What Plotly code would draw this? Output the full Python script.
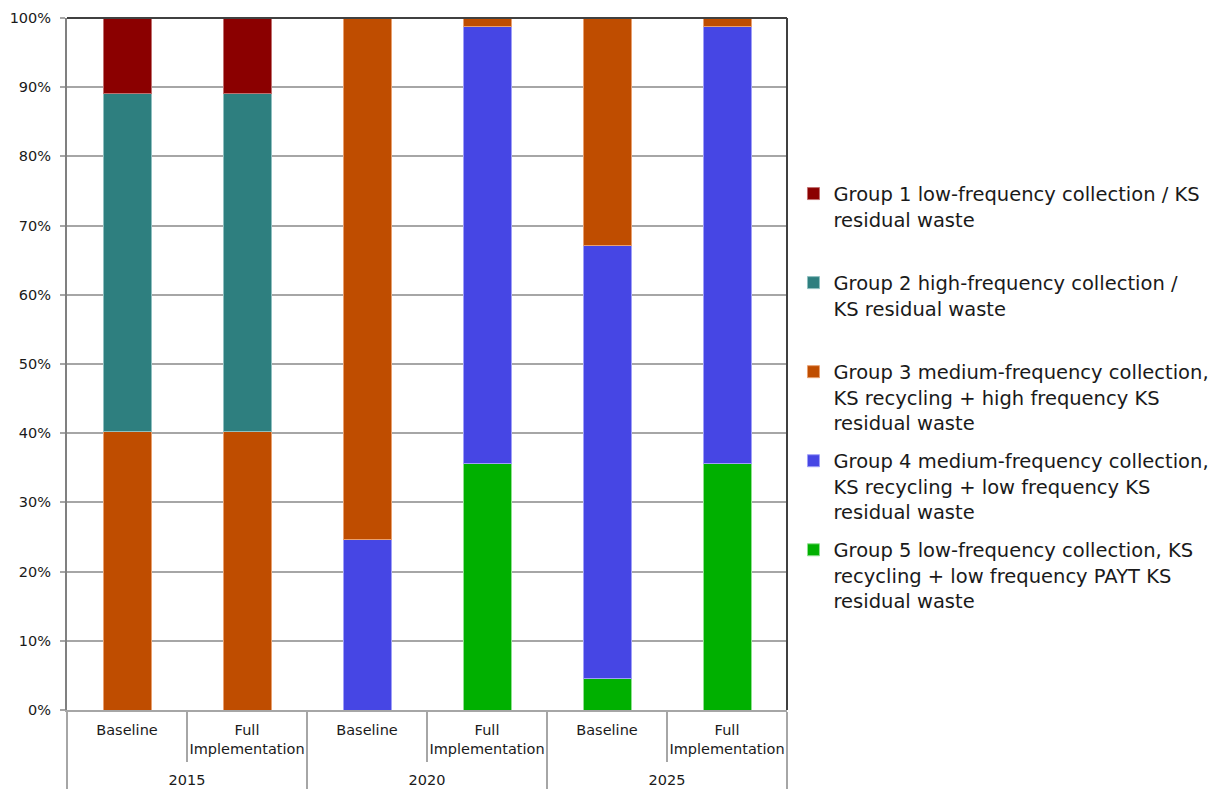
import plotly.graph_objects as go

years = ["2015", "2015", "2020", "2020", "2025", "2025"]
scenarios = ["Baseline", "Full<br>Implementation<br> ", "Baseline", "Full<br>Implementation<br> ",
             "Baseline", "Full<br>Implementation<br> "]

series_names = [
    "Group 1 low-frequency collection / KS<br>residual waste<br> ",
    "Group 2 high-frequency collection /<br>KS residual waste<br> ",
    "Group 3 medium-frequency collection,<br>KS recycling + high frequency KS<br>residual waste",
    "Group 4 medium-frequency collection,<br>KS recycling + low frequency KS<br>residual waste",
    "Group 5 low-frequency collection, KS<br>recycling + low frequency PAYT KS<br>residual waste",
]
g1 = [10.9, 10.9, None, None, None, None]
g2 = [48.8, 48.8, None, None, None, None]
g3 = [40.3, 40.3, 75.3, 1.25, 32.85, 1.25]
g4 = [None, None, 24.7, 63.1, 62.55, 63.1]
g5 = [None, None, None, 35.65, 4.6, 35.65]
colors = ["#8B0000", "#2E7F7F", "#BF4D00", "#4646E4", "#00B000"]
outline = ["#C07070", "#90C0C0", "#E8A070", "#A0A0F8", "#90E090"]
y_ticks = [0, 10, 20, 30, 40, 50, 60, 70, 80, 90, 100]
y_labels = [f"{v}%" for v in y_ticks]

values = [g1, g2, g3, g4, g5]

FONT = "DejaVu Sans"
fig = go.Figure()
# stack bottom to top: group 5 ... group 1
for i in [4, 3, 2, 1, 0]:
    fig.add_trace(go.Bar(
        x=[years, scenarios], y=values[i], name=series_names[i],
        marker=dict(color=colors[i], line=dict(color=outline[i], width=1)),
        legendgroup=f"g{i}", legendrank=i + 1,
    ))

fig.update_layout(
    barmode="stack", bargap=0.6,
    width=1213, height=781,
    margin=dict(l=59, r=434, t=10, b=79, autoexpand=False),
    paper_bgcolor="white", plot_bgcolor="white",
    font=dict(family=FONT, size=14.5, color="#1a1a1a"),
    legend=dict(
        x=1.009, xanchor="left", y=0.774, yanchor="top",
        traceorder="grouped", tracegroupgap=10, valign="top",
        font=dict(family=FONT, size=19.5, color="#1a1a1a"),
    ),
    showlegend=True,
)
fig.update_yaxes(
    range=[0, 100], tickvals=y_ticks, ticktext=y_labels,
    showgrid=True, gridcolor="#A6A6A6", gridwidth=1.5,
    showline=True, linecolor="#808080", linewidth=2,
    ticks="outside", ticklen=5, tickcolor="#A6A6A6", tickwidth=1.5,
    ticklabelstandoff=6, zeroline=False, automargin=False,
    tickfont=dict(size=14.5),
)
fig.update_xaxes(
    type="multicategory", automargin=False, tickangle=0,
    showline=True, linecolor="#A6A6A6", linewidth=1.5,
    ticks="outside", ticklen=50, tickcolor="#A6A6A6", tickwidth=1.5,
    showdividers=True, dividercolor="#A6A6A6", dividerwidth=1.5,
    tickfont=dict(size=14.5), ticklabelstandoff=6,
)
# plot-area border (top and right)
fig.add_shape(type="line", xref="paper", yref="paper", x0=0, x1=1, y0=1, y1=1,
              line=dict(color="#404040", width=2))
fig.add_shape(type="line", xref="paper", yref="paper", x0=1, x1=1, y0=0, y1=1,
              line=dict(color="#404040", width=2))

fig.write_html("out.html")
